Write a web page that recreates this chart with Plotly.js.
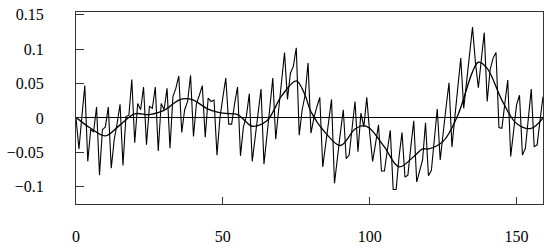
<!DOCTYPE html>
<html>
<head>
<meta charset="utf-8">
<script src="https://cdn.plot.ly/plotly-3.0.1.min.js"></script>
<style>
  html, body { margin: 0; padding: 0; background: #fff; }
  #myDiv { width: 550px; height: 250px; }
</style>
</head>
<body>
<div id="myDiv"></div>
<script>
// noisy series, one value per sample 0..159
var noisy = [
  0.0, -0.045, 0.002, 0.047, -0.063, -0.017, -0.02, 0.016, -0.083, -0.017,
  -0.013, 0.016, -0.073, -0.032, -0.008, 0.02, -0.069, 0.002, 0.004, 0.056,
  -0.036, 0.021, 0.012, 0.045, -0.039, 0.017, 0.014, 0.045, -0.048, 0.021,
  0.012, 0.043, -0.044, 0.031, 0.043, 0.061, -0.021, 0.012, 0.024, 0.062,
  -0.027, 0.021, 0.033, 0.047, -0.028, 0.029, 0.024, 0.026, -0.054, 0.0,
  0.03, 0.058, -0.009, -0.009, 0.021, 0.045, -0.055, -0.013, 0.002, 0.035,
  -0.063, -0.025, 0.01, 0.042, -0.067, -0.02, 0.015, 0.058, -0.031, 0.012,
  0.053, 0.095, 0.027, 0.065, 0.075, 0.102, -0.025, 0.012, 0.033, 0.08,
  -0.022, 0.0, 0.016, 0.03, -0.071, -0.037, -0.005, 0.027, -0.095, -0.056,
  -0.022, 0.012, -0.059, -0.054, -0.013, 0.024, -0.049, 0.007, -0.013, 0.03,
  -0.022, -0.063, -0.037, -0.01, -0.077, -0.077, -0.047, -0.018, -0.104, -0.104,
  -0.056, -0.021, -0.086, -0.083, -0.042, -0.004, -0.093, -0.076, -0.061, -0.007,
  -0.084, -0.076, -0.032, 0.013, -0.061, -0.02, 0.016, 0.051, -0.042, 0.002,
  0.046, 0.087, 0.014, 0.055, 0.094, 0.132, 0.08, 0.044, 0.085, 0.124,
  0.024, 0.07, 0.087, 0.095, -0.014, -0.015, 0.021, 0.055, -0.056, -0.017,
  0.019, 0.033, -0.054, -0.044, 0.0, 0.042, -0.042, -0.039, -0.003, 0.031
];
var noisyX = [];
for (var i = 0; i < noisy.length; i++) { noisyX.push(i); }

// smooth curve, sampled where it was read
var smoothX = [0, 5, 10, 15, 20, 25, 30, 35, 38, 40, 45, 50, 55, 58, 60, 65, 70, 75, 78, 80,
               85, 90, 95, 98, 100, 105, 110, 115, 118, 120, 125, 130, 135, 137, 140, 145, 150, 155, 159];
var smoothY = [0.001, -0.015, -0.026, -0.010, 0.006, 0.005, 0.011, 0.026, 0.028, 0.026,
               0.013, 0.007, 0.005, -0.006, -0.012, -0.004, 0.032, 0.054, 0.033, 0.009,
               -0.022, -0.040, -0.016, -0.011, -0.015, -0.042, -0.071, -0.056, -0.045, -0.045,
               -0.034, 0.004, 0.067, 0.081, 0.072, 0.026, -0.008, -0.015, 0.0];

var xTicks = [0, 50, 100, 150];
var yTicks = [-0.1, -0.05, 0, 0.05, 0.1, 0.15];
var yTickText = ['\u22120.1', '\u22120.05', '0', '0.05', '0.1', '0.15'];

var serif = '"Times New Roman", "Liberation Serif", Times, serif';

var data = [
  {x: noisyX, y: noisy, type: 'scatter', mode: 'lines',
   line: {color: '#000', width: 1.1}, hoverinfo: 'none'},
  {x: smoothX, y: smoothY, type: 'scatter', mode: 'lines',
   line: {color: '#000', width: 1.3, shape: 'spline', smoothing: 1}, hoverinfo: 'none'}
];

var layout = {
  width: 550, height: 250,
  margin: {l: 76, r: 7, t: 12, b: 46},
  paper_bgcolor: '#fff', plot_bgcolor: '#fff',
  showlegend: false,
  font: {family: serif, size: 16, color: '#000'},
  xaxis: {
    range: [0, 159], tickvals: xTicks, ticks: 'inside', ticklen: 7, tickcolor: '#333',
    showgrid: false, zeroline: false, showline: true, linecolor: '#333', linewidth: 1,
    mirror: true, ticklabelstandoff: 18,
    tickfont: {family: serif, size: 16, color: '#000'}
  },
  yaxis: {
    range: [-0.125, 0.154], tickvals: yTicks, ticktext: yTickText, ticks: 'inside', ticklen: 8,
    tickcolor: '#333', showgrid: false, zeroline: true, zerolinecolor: '#000', zerolinewidth: 1,
    showline: true, linecolor: '#333', linewidth: 1, mirror: true, ticklabelstandoff: 28,
    tickfont: {family: serif, size: 16, color: '#000'}
  }
};

Plotly.newPlot('myDiv', data, layout, {staticPlot: true});
</script>
</body>
</html>
